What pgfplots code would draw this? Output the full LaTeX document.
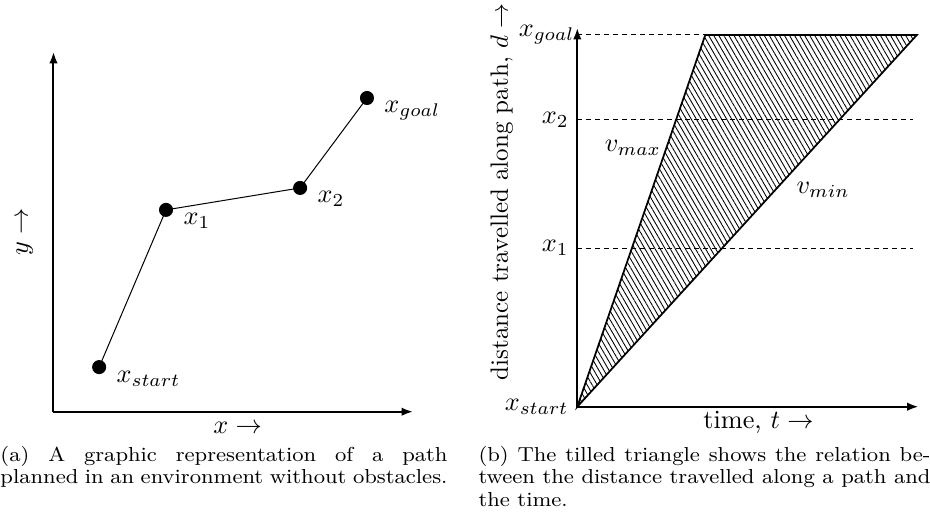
\RequirePackage{fix-cm}
\documentclass[border=0pt]{standalone}
\usepackage{pgfplots}
\pgfplotsset{compat=1.18}
\usetikzlibrary{arrows.meta,patterns.meta}
\newcommand{\lblfont}{\fontsize{10.5}{12}\selectfont}
\newcommand{\capfont}{\fontsize{8.8}{9.84}\selectfont}
\begin{document}
\begin{tikzpicture}
\path[use as bounding box] (0pt,0pt) rectangle (372pt,209.2pt);
% ---------- (a) ----------
\begin{axis}[
  at={(21.4pt,44.52pt)}, anchor=south west,
  scale only axis, width=143.8pt, height=143.9pt,
  xmin=0, xmax=10, ymin=0, ymax=10,
  axis lines=left,
  axis line style={line width=0.8pt, -{Latex[length=4.6pt,width=3.4pt]}},
  ticks=none, clip=false,
  xlabel={$x \rightarrow$}, ylabel={$y \rightarrow$},
  label style={font=\lblfont},
  x label style={at={(axis description cs:0.512,-0.045)}, anchor=center},
  y label style={at={(axis description cs:-0.08,0.5)}, anchor=center},
]
\addplot[black, line width=0.4pt, mark=*, mark size=2.6pt,
  mark options={solid, fill=black},
  nodes near coords, point meta=explicit symbolic,
  every node near coord/.append style={anchor=base west, xshift=6.8pt, yshift=-6pt, inner sep=0pt, font=\lblfont, black}]
  coordinates {(1.27,1.24) [$x_{start}$] (3.13,5.61) [$x_1$] (6.86,6.22) [$x_2$] (8.72,8.72) [$x_{goal}$]};
\end{axis}
% ---------- (b) ----------
\begin{axis}[
  at={(230.92pt,46.52pt)}, anchor=south west,
  scale only axis, width=136.5pt, height=151.5pt,
  xmin=0, xmax=10, ymin=0, ymax=10,
  axis lines=left,
  axis line style={line width=0.8pt, -{Latex[length=4.6pt,width=3.4pt]}},
  xtick=\empty,
  ytick={0,4.19,7.57,9.815},
  yticklabels={$x_{start}$,$x_1$,$x_2$,$x_{goal}$\kern-2.4pt},
  major tick length=0pt,
  tick label style={font=\lblfont},
  clip=false,
  xlabel={time, $t \rightarrow$},
  ylabel={distance travelled along path, $d \rightarrow$},
  label style={font=\lblfont},
  x label style={at={(axis description cs:0.531,-0.041)}, anchor=center},
  y label style={at={(axis description cs:-0.221,0.567)}, anchor=center, font=\fontsize{10}{12}\selectfont},
]
\addplot[draw=black, line width=0.7pt,
  pattern={Lines[angle=-60,distance=1.75pt,line width=0.35pt]}]
  coordinates {(0,0) (3.75,9.815) (9.95,9.815)} -- cycle;
\addplot[black, line width=0.4pt, dash pattern=on 2pt off 1.6pt] coordinates {(0,9.815) (9.85,9.815)};
\addplot[black, line width=0.4pt, dash pattern=on 2pt off 1.6pt] coordinates {(0,7.57) (9.85,7.57)};
\addplot[black, line width=0.4pt, dash pattern=on 2pt off 1.6pt] coordinates {(0,4.19) (9.85,4.19)};
\node[font=\lblfont] at (axis cs:1.63,6.83) {$v_{max}$};
\node[font=\lblfont] at (axis cs:7.2,5.72) {$v_{min}$};
\end{axis}
% ---------- captions ----------
\node[anchor=base west, inner sep=0pt] at (0pt,24.8pt) {\scalebox{1}[0.92]{\parbox[t]{178.8pt}{\capfont\tolerance=10000\hbadness=10000
(a) A graphic representation of a path\linebreak planned in an environment without obstacles.}}};
\node[anchor=base west, inner sep=0pt] at (191.2pt,24.8pt) {\scalebox{1}[0.92]{\parbox[t]{180.8pt}{\capfont\tolerance=10000\hbadness=10000
(b) The tilled triangle shows the relation be-\linebreak tween the distance travelled along a path and\linebreak the time.}}};
\end{tikzpicture}
\end{document}
